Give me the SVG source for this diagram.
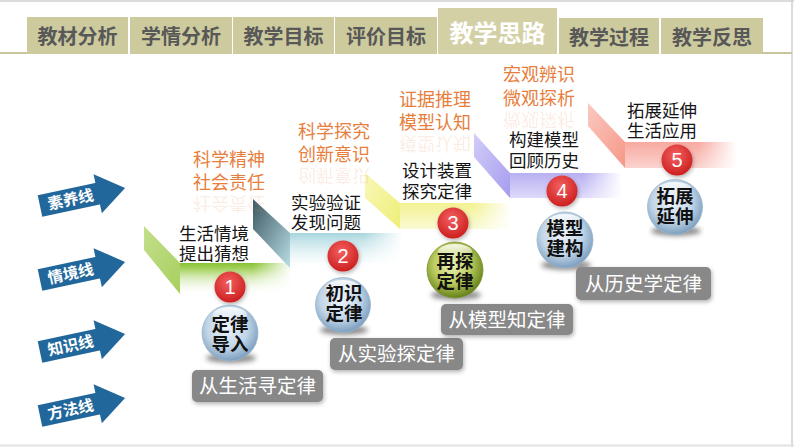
<svg xmlns="http://www.w3.org/2000/svg" xmlns:xlink="http://www.w3.org/1999/xlink" width="794" height="447" viewBox="0 0 794 447">
<style>
.tab{fill:#cdca9e}
.tabt{font-family:"Noto Sans CJK SC","Noto Sans",sans-serif;font-weight:bold;font-size:20px;fill:#585858}
.tabact{font-family:"Noto Sans CJK SC","Noto Sans",sans-serif;font-weight:bold;font-size:24px;fill:#ffffff}
.arr{fill:#22679b}
.arrt{font-family:"Noto Sans CJK SC","Noto Sans",sans-serif;font-weight:bold;font-size:15.5px;fill:#ffffff}
.blk{font-family:"Noto Sans CJK SC","Noto Sans",sans-serif;font-size:17.5px;fill:#151515}
.org{font-family:"Noto Sans CJK SC","Noto Sans",sans-serif;font-size:18px;fill:#e77e3c}
.refl{opacity:0.13}
.sph{font-family:"Noto Sans CJK SC","Noto Sans",sans-serif;font-weight:bold;font-size:18.5px;fill:#111111;text-anchor:middle}
.num{font-family:"Liberation Sans","Noto Sans",sans-serif;font-size:20px;fill:#ffffff;text-anchor:middle}
.lab{fill:#888888}
.labt{font-family:"Noto Sans CJK SC","Noto Sans",sans-serif;font-size:19.5px;fill:#ffffff;text-anchor:middle}
</style>
<defs>
<linearGradient id="fadeG" x1="0" y1="0" x2="1" y2="0">
<stop offset="0" stop-color="#fff"/><stop offset="0.65" stop-color="#fff"/><stop offset="1" stop-color="#000"/>
</linearGradient>
<mask id="fadeR" maskContentUnits="objectBoundingBox"><rect width="1" height="1" fill="url(#fadeG)"/></mask>
<linearGradient id="b1" x1="0" y1="0" x2="0" y2="1"><stop offset="0" stop-color="#86c232"/><stop offset="0.2" stop-color="#a9d365"/><stop offset="1" stop-color="#ffffff" stop-opacity="0"/></linearGradient>
<linearGradient id="b2" x1="0" y1="0" x2="0" y2="1"><stop offset="0" stop-color="#a6d5dc"/><stop offset="1" stop-color="#e8f5f7" stop-opacity="0.3"/></linearGradient>
<linearGradient id="b3" x1="0" y1="0" x2="0" y2="1"><stop offset="0" stop-color="#f2f292"/><stop offset="1" stop-color="#fafad4"/></linearGradient>
<linearGradient id="b4" x1="0" y1="0" x2="0" y2="1"><stop offset="0" stop-color="#b7b0f2"/><stop offset="1" stop-color="#dedafa"/></linearGradient>
<linearGradient id="b5" x1="0" y1="0" x2="0" y2="1"><stop offset="0" stop-color="#f7a9a0"/><stop offset="1" stop-color="#fbd3ce"/></linearGradient>
<linearGradient id="d1" x1="0" y1="0" x2="1" y2="1"><stop offset="0" stop-color="#c3df8c"/><stop offset="1" stop-color="#a8cf5e"/></linearGradient>
<linearGradient id="d2" x1="0" y1="0" x2="1" y2="1"><stop offset="0" stop-color="#3d5862"/><stop offset="1" stop-color="#b9dee6"/></linearGradient>
<linearGradient id="d3" x1="0" y1="0" x2="1" y2="1"><stop offset="0" stop-color="#f8f8b8"/><stop offset="1" stop-color="#eeee78"/></linearGradient>
<linearGradient id="d4" x1="0" y1="0" x2="1" y2="1"><stop offset="0" stop-color="#d2cdf8"/><stop offset="1" stop-color="#a49cee"/></linearGradient>
<linearGradient id="d5" x1="0" y1="0" x2="1" y2="1"><stop offset="0" stop-color="#fbc8c0"/><stop offset="1" stop-color="#f59888"/></linearGradient>
<radialGradient id="sb" cx="0.45" cy="0.4" r="0.6"><stop offset="0" stop-color="#eef4fa"/><stop offset="0.6" stop-color="#c2d6e8"/><stop offset="1" stop-color="#7d9fbf"/></radialGradient>
<radialGradient id="sg" cx="0.45" cy="0.4" r="0.6"><stop offset="0" stop-color="#eef3b8"/><stop offset="0.55" stop-color="#bccd60"/><stop offset="1" stop-color="#66821a"/></radialGradient>
<radialGradient id="rc" cx="0.45" cy="0.35" r="0.65"><stop offset="0" stop-color="#f46060"/><stop offset="1" stop-color="#cc2020"/></radialGradient>
<linearGradient id="hl" x1="0" y1="0" x2="0" y2="1"><stop offset="0" stop-color="#fff" stop-opacity="0.9"/><stop offset="1" stop-color="#fff" stop-opacity="0"/></linearGradient>
<filter id="blur" x="-50%" y="-50%" width="200%" height="200%"><feGaussianBlur stdDeviation="2.5"/></filter>
<filter id="sh" x="-20%" y="-20%" width="140%" height="160%"><feDropShadow dx="1" dy="2" stdDeviation="2" flood-color="#000" flood-opacity="0.3"/></filter>
<g id="arrowShape"><rect x="0" y="-11" width="61" height="22"/><polygon points="59,-20 87,0 59,20"/></g>
</defs>

<!-- frame -->
<rect x="0" y="0" width="794" height="447" fill="#ffffff"/>
<line x1="0" y1="1" x2="794" y2="1" stroke="#dcdcdc" stroke-width="2"/>
<line x1="792" y1="0" x2="792" y2="447" stroke="#cfcfcf" stroke-width="1.5"/>
<line x1="0" y1="445.5" x2="794" y2="445.5" stroke="#e2e2e2" stroke-width="2"/>

<!-- tabs -->
<g id="tabs">
<line x1="0" y1="53" x2="28" y2="53" stroke="#c9c69b" stroke-width="2"/>
<line x1="762" y1="53" x2="792" y2="53" stroke="#c9c69b" stroke-width="2"/>
<g id="tab1"><rect class="tab" x="27" y="17" width="101" height="37"/><text class="tabt" x="77.5" y="44" text-anchor="middle">教材分析</text></g>
<g id="tab2"><rect class="tab" x="130" y="17" width="102" height="37"/><text class="tabt" x="181" y="44" text-anchor="middle">学情分析</text></g>
<g id="tab3"><rect class="tab" x="233" y="17" width="101" height="37"/><text class="tabt" x="283.5" y="44" text-anchor="middle">教学目标</text></g>
<g id="tab4"><rect class="tab" x="335" y="17" width="102" height="37"/><text class="tabt" x="386" y="44" text-anchor="middle">评价目标</text></g>
<g id="tab5"><rect x="438" y="8" width="119" height="46" fill="#d3d0a6"/><text class="tabact" x="497.5" y="42" text-anchor="middle">教学思路</text></g>
<g id="tab6"><rect class="tab" x="559" y="18" width="100" height="36"/><text class="tabt" x="609" y="45" text-anchor="middle">教学过程</text></g>
<g id="tab7"><rect class="tab" x="661" y="18" width="102" height="36"/><text class="tabt" x="712" y="45" text-anchor="middle">教学反思</text></g>
</g>

<!-- left arrows -->
<g id="arrow-suyang" transform="translate(40,206) rotate(-12)"><use href="#arrowShape" class="arr"/><text class="arrt" x="8" y="5.5">素养线</text></g>
<g id="arrow-qingjing" transform="translate(40,280) rotate(-12)"><use href="#arrowShape" class="arr"/><text class="arrt" x="8" y="5.5">情境线</text></g>
<g id="arrow-zhishi" transform="translate(40,352) rotate(-12)"><use href="#arrowShape" class="arr"/><text class="arrt" x="8" y="5.5">知识线</text></g>
<g id="arrow-fangfa" transform="translate(40,416) rotate(-12)"><use href="#arrowShape" class="arr"/><text class="arrt" x="8" y="5.5">方法线</text></g>

<!-- step ribbons -->
<g id="ribbons">
<rect x="180" y="263" width="112" height="32" fill="url(#b1)" mask="url(#fadeR)"/>
<polygon points="144,226 180,263 180,294 144,250" fill="url(#d1)"/>
<rect x="290" y="233" width="112" height="30" fill="url(#b2)" mask="url(#fadeR)"/>
<polygon points="253,199 290,233 290,268 253,229" fill="url(#d2)"/>
<rect x="400" y="203" width="112" height="26" fill="url(#b3)" mask="url(#fadeR)"/>
<polygon points="365,173 400,203 400,229 365,198" fill="url(#d3)"/>
<rect x="510" y="173" width="112" height="25" fill="url(#b4)" mask="url(#fadeR)"/>
<polygon points="474,133 510,173 510,198 474,157" fill="url(#d4)"/>
<rect x="625" y="142" width="112" height="26" fill="url(#b5)" mask="url(#fadeR)"/>
<polygon points="588,103 625,142 625,168 588,126" fill="url(#d5)"/>
</g>

<!-- orange competency texts with reflections -->
<g id="literacy1">
<text class="org" x="193" y="166">科学精神</text><text id="o1" class="org" x="193" y="189">社会责任</text>
<use href="#o1" class="refl" transform="translate(0,386) scale(1,-1)"/>
</g>
<g id="literacy2">
<text class="org" x="298" y="138">科学探究</text><text id="o2" class="org" x="298" y="161">创新意识</text>
<use href="#o2" class="refl" transform="translate(0,330) scale(1,-1)"/>
</g>
<g id="literacy3">
<text class="org" x="399" y="106">证据推理</text><text id="o3" class="org" x="399" y="129">模型认知</text>
<use href="#o3" class="refl" transform="translate(0,266) scale(1,-1)"/>
</g>
<g id="literacy4">
<text class="org" x="503" y="81">宏观辨识</text><text id="o4" class="org" x="503" y="105">微观探析</text>
<use href="#o4" class="refl" transform="translate(0,218) scale(1,-1)"/>
</g>

<!-- situation texts -->
<g id="situation1"><text class="blk" x="179" y="240">生活情境</text><text class="blk" x="179" y="260">提出猜想</text></g>
<g id="situation2"><text class="blk" x="291" y="209">实验验证</text><text class="blk" x="291" y="229">发现问题</text></g>
<g id="situation3"><text class="blk" x="402" y="177">设计装置</text><text class="blk" x="402" y="198">探究定律</text></g>
<g id="situation4"><text class="blk" x="509" y="146">构建模型</text><text class="blk" x="509" y="167">回顾历史</text></g>
<g id="situation5"><text class="blk" x="627" y="117">拓展延伸</text><text class="blk" x="627" y="137">生活应用</text></g>

<!-- numbered red circles -->
<g id="num1"><circle cx="230" cy="287" r="15.5" fill="url(#rc)" filter="url(#sh)"/><text class="num" x="230" y="294">1</text></g>
<g id="num2"><circle cx="343" cy="256" r="15.5" fill="url(#rc)" filter="url(#sh)"/><text class="num" x="343" y="263">2</text></g>
<g id="num3"><circle cx="453" cy="223" r="15.5" fill="url(#rc)" filter="url(#sh)"/><text class="num" x="453" y="230">3</text></g>
<g id="num4"><circle cx="562" cy="191" r="15.5" fill="url(#rc)" filter="url(#sh)"/><text class="num" x="562" y="198">4</text></g>
<g id="num5"><circle cx="677" cy="160" r="15.5" fill="url(#rc)" filter="url(#sh)"/><text class="num" x="677" y="167">5</text></g>

<!-- spheres -->
<g id="sphere1">
<ellipse cx="231" cy="358" rx="25" ry="5" fill="#333" opacity="0.55" filter="url(#blur)"/>
<circle cx="230" cy="333" r="28" fill="url(#sb)" stroke="#9cb6cc" stroke-width="0.8"/>
<ellipse cx="230" cy="315" rx="17" ry="8" fill="url(#hl)"/>
<text class="sph" x="230" y="331">定律</text><text class="sph" x="230" y="351">导入</text>
</g>
<g id="sphere2">
<ellipse cx="344" cy="330" rx="24" ry="5" fill="#333" opacity="0.55" filter="url(#blur)"/>
<circle cx="343" cy="305" r="27.5" fill="url(#sb)" stroke="#9cb6cc" stroke-width="0.8"/>
<ellipse cx="343" cy="288" rx="17" ry="8" fill="url(#hl)"/>
<text class="sph" x="344" y="300">初识</text><text class="sph" x="344" y="320">定律</text>
</g>
<g id="sphere3">
<ellipse cx="456" cy="295" rx="25" ry="5" fill="#333" opacity="0.55" filter="url(#blur)"/>
<circle cx="455" cy="270" r="28" fill="url(#sg)" stroke="#7d9430" stroke-width="0.8"/>
<ellipse cx="455" cy="252" rx="17" ry="8" fill="url(#hl)"/>
<text class="sph" x="455" y="268">再探</text><text class="sph" x="455" y="288">定律</text>
</g>
<g id="sphere4">
<ellipse cx="566" cy="265" rx="25" ry="5" fill="#333" opacity="0.55" filter="url(#blur)"/>
<circle cx="565" cy="240" r="28" fill="url(#sb)" stroke="#9cb6cc" stroke-width="0.8"/>
<ellipse cx="565" cy="222" rx="17" ry="8" fill="url(#hl)"/>
<text class="sph" x="565" y="235">模型</text><text class="sph" x="565" y="255">建构</text>
</g>
<g id="sphere5">
<ellipse cx="676" cy="231" rx="25" ry="5" fill="#333" opacity="0.55" filter="url(#blur)"/>
<circle cx="675" cy="207" r="27.5" fill="url(#sb)" stroke="#9cb6cc" stroke-width="0.8"/>
<ellipse cx="675" cy="190" rx="17" ry="8" fill="url(#hl)"/>
<text class="sph" x="675" y="203">拓展</text><text class="sph" x="675" y="223">延伸</text>
</g>

<!-- gray method labels -->
<g id="label1"><rect class="lab" x="192" y="370" width="131" height="32" rx="5" filter="url(#sh)"/><text class="labt" x="257.5" y="393">从生活寻定律</text></g>
<g id="label2"><rect class="lab" x="330" y="338" width="133" height="32" rx="5" filter="url(#sh)"/><text class="labt" x="396.5" y="361">从实验探定律</text></g>
<g id="label3"><rect class="lab" x="441" y="304" width="132" height="31" rx="5" filter="url(#sh)"/><text class="labt" x="507" y="327">从模型知定律</text></g>
<g id="label4"><rect class="lab" x="576" y="267" width="135" height="33" rx="5" filter="url(#sh)"/><text class="labt" x="643.5" y="291">从历史学定律</text></g>
</svg>
